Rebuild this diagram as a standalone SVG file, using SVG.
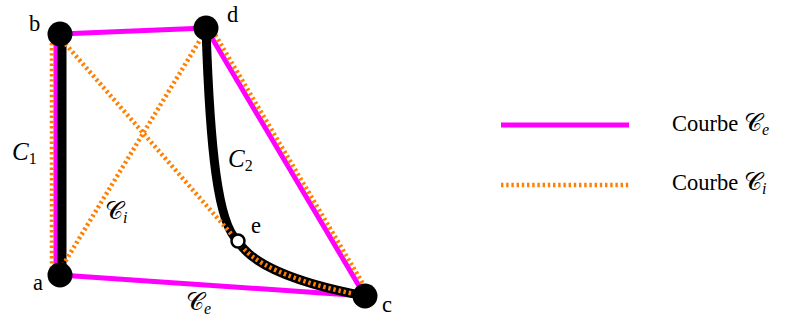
<svg xmlns="http://www.w3.org/2000/svg" width="789" height="320" viewBox="0 0 789 320">
<style>
.ce{fill:none;stroke:#ff00ff;stroke-width:5}
.ci{fill:none;stroke:#ff8000;stroke-width:4.5;stroke-dasharray:2.4 2.8}
.cb{fill:none;stroke:#000;stroke-width:9;stroke-linecap:round}
.node{fill:#000}
.t{font-family:"Liberation Serif","DejaVu Serif",serif;font-size:22.5px;fill:#000}
.m{font-family:"Liberation Serif","DejaVu Serif",serif;font-style:italic;font-size:25px;fill:#000}
.cal{font-family:"DejaVu Serif","Noto Sans","Liberation Serif",serif;font-size:25px;font-style:normal;fill:#000}
.sub{font-size:16px}
</style>
<rect width="789" height="320" fill="#fff"/>
<g id="connectors">
  <g id="curve-Ce">
    <line class="ce" x1="60" y1="34" x2="206" y2="28"/>
    <line class="ce" x1="206" y1="28" x2="365" y2="296"/>
    <line class="ce" x1="365" y1="296" x2="60" y2="275"/>
    <line class="ce" x1="56" y1="275" x2="56" y2="34"/>
  </g>
  <g id="curve-C1">
    <line class="cb" x1="62" y1="272" x2="62" y2="36"/>
  </g>
  <g id="curve-C2">
    <path class="cb" d="M206,28 C210,150 218,225 238,241 C250,262 290,282 365,296"/>
  </g>
  <g id="curve-Ci">
    <line class="ci" x1="52" y1="274" x2="52" y2="40"/>
    <line class="ci" x1="62" y1="40" x2="233" y2="236"/>
    <path class="ci" d="M238,241 C250,262 290,282 365,296"/>
    <line class="ci" x1="210" y1="26" x2="369" y2="294"/>
    <line class="ci" x1="60" y1="270" x2="203" y2="35"/>
  </g>
</g>
<g id="node-a"><circle class="node" cx="60" cy="275" r="12.5"/><text class="t" x="33" y="290">a</text></g>
<g id="node-b"><circle class="node" cx="60" cy="34" r="12.5"/><text class="t" x="29" y="31">b</text></g>
<g id="node-c"><circle class="node" cx="365" cy="296" r="12.5"/><text class="t" x="382" y="312">c</text></g>
<g id="node-d"><circle class="node" cx="206" cy="28" r="12.5"/><text class="t" x="227" y="22">d</text></g>
<g id="node-e"><circle cx="238" cy="241" r="6.5" fill="#fff" stroke="#000" stroke-width="2.5"/><text class="t" x="251" y="233">e</text></g>
<g id="labels">
  <text class="m" x="12" y="160">C<tspan class="sub" font-style="normal" dy="4">1</tspan></text>
  <text class="m" x="228" y="167">C<tspan class="sub" font-style="normal" dy="4">2</tspan></text>
  <text class="cal" x="105" y="219">𝒞<tspan class="m sub" dy="4">i</tspan></text>
  <text class="cal" x="186" y="310">𝒞<tspan class="m sub" dy="4">e</tspan></text>
</g>
<g id="legend">
  <line class="ce" x1="501" y1="125" x2="629" y2="125"/>
  <line class="ci" x1="501" y1="185" x2="629" y2="185"/>
  <text class="t" x="672" y="131">Courbe <tspan class="cal">𝒞</tspan><tspan class="m sub" dy="4">e</tspan></text>
  <text class="t" x="672" y="190">Courbe <tspan class="cal">𝒞</tspan><tspan class="m sub" dy="4">i</tspan></text>
</g>
</svg>
